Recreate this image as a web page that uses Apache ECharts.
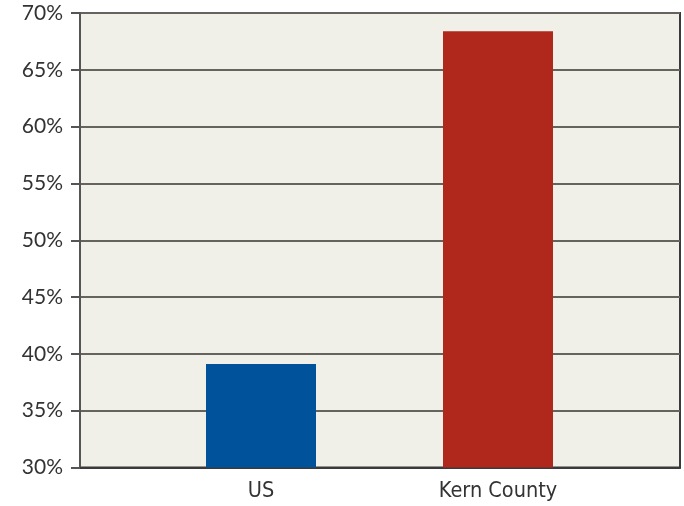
<!DOCTYPE html>
<html>
<head>
<meta charset="utf-8">
<script src="https://cdn.jsdelivr.net/npm/echarts@6/dist/echarts.min.js"></script>
<style>
html,body{margin:0;padding:0;background:#fff;}
#chart{width:684px;height:506px;}
</style>
</head>
<body>
<div id="chart"></div>
<script>
const categories = ['US', 'Kern County'];
const values = [39.1, 68.4];
const barColors = ['#00529b', '#b0281b'];
const yMin = 30, yMax = 70, yStep = 5;

const chart = echarts.init(document.getElementById('chart'), null, {renderer: 'canvas'});
const option = {
  animation: false,
  backgroundColor: '#ffffff',
  grid: [
    {left: 80, right: 4, top: 13, bottom: 38.5, show: true, backgroundColor: '#f0efe8', borderColor: '#3a3a3a', borderWidth: 2},
    {left: 142.5, right: 67.5, top: 13, bottom: 38.5}
  ],
  xAxis: [
    {gridIndex: 0, type: 'value', min: 0, max: 1, axisLine: {show: true, onZero: false, lineStyle: {color: '#3a3a3a', width: 2}},
     axisTick: {show: false}, axisLabel: {show: false}, splitLine: {show: false}},
    {gridIndex: 1, type: 'category', data: categories, axisLine: {show: false}, axisTick: {show: false},
     axisLabel: {color: '#333', fontFamily: '"Liberation Sans Narrow", "DejaVu Sans Condensed", sans-serif', fontSize: 21.5, margin: 13}}
  ],
  yAxis: [
    {gridIndex: 0, type: 'value', min: yMin, max: yMax, interval: yStep,
     axisLine: {show: true, lineStyle: {color: '#555', width: 2}},
     axisTick: {show: true, length: 9, lineStyle: {color: '#555', width: 2}},
     axisLabel: {color: '#333', fontFamily: 'Lato, "Open Sans", sans-serif', fontSize: 21, margin: 17, formatter: v => v + '%'},
     splitLine: {show: true, lineStyle: {color: '#66635e', width: 2}}},
    {gridIndex: 1, type: 'value', min: yMin, max: yMax, interval: yStep, show: false}
  ],
  series: [{
    type: 'bar', xAxisIndex: 1, yAxisIndex: 1, barWidth: 110,
    data: values.map((v, i) => ({value: v, itemStyle: {color: barColors[i]}}))
  }]
};
chart.setOption(option);
</script>
</body>
</html>
